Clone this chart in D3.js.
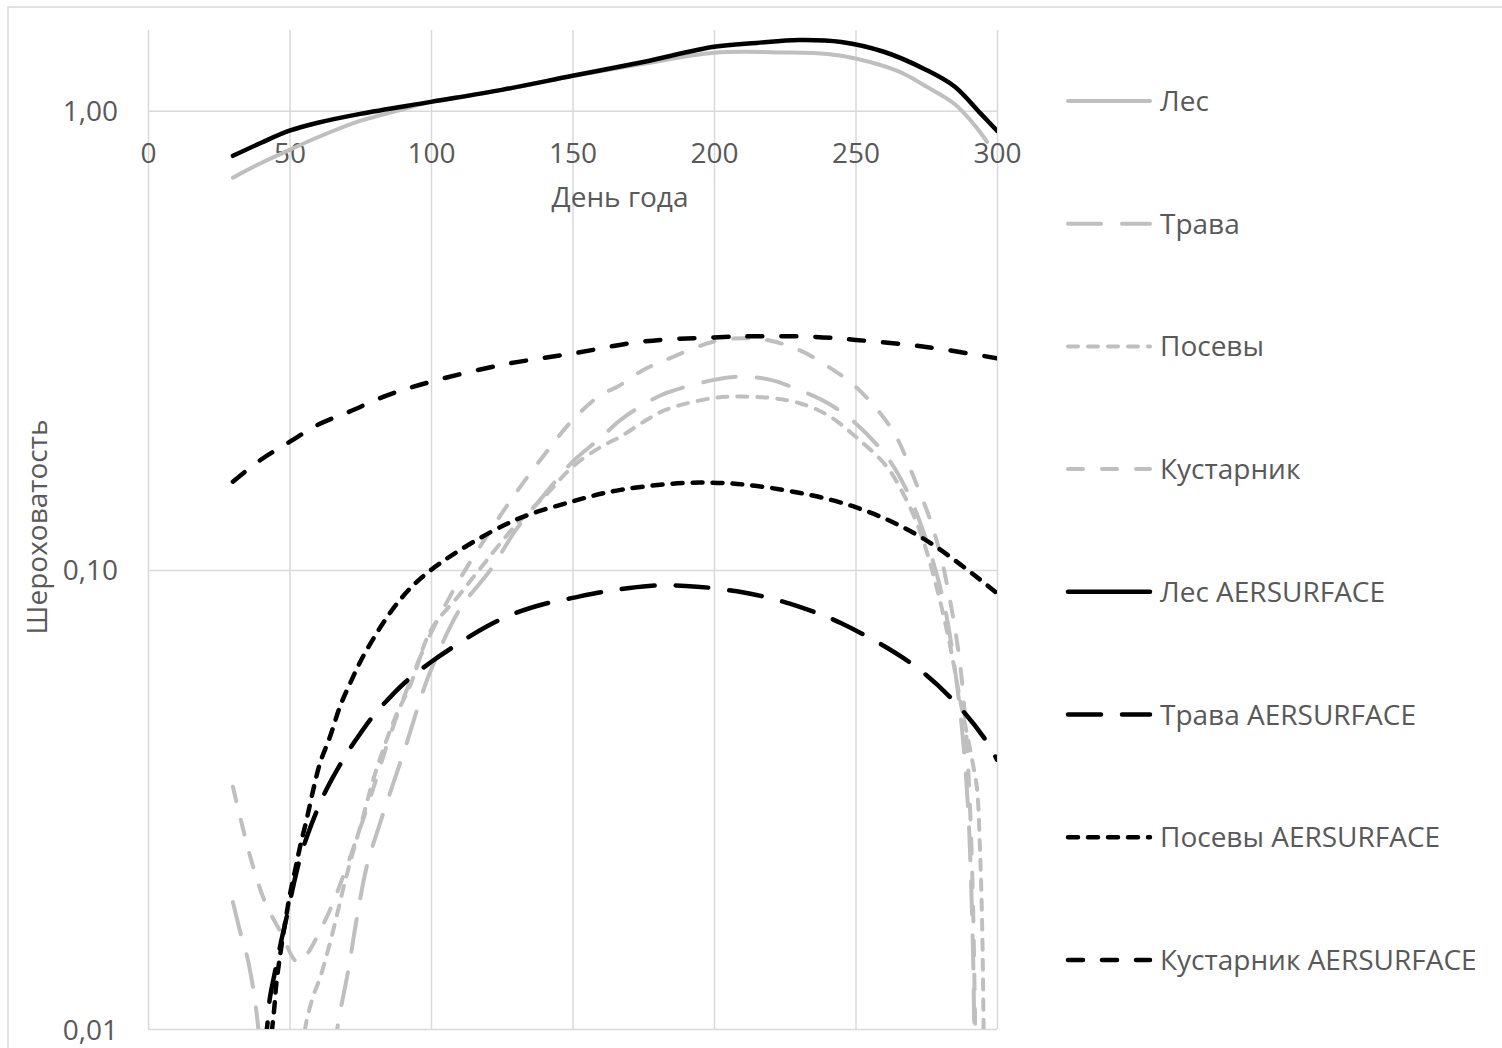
<!DOCTYPE html>
<html>
<head>
<meta charset="utf-8">
<script src="https://cdn.jsdelivr.net/npm/d3@7"></script>
<style>
  body { margin: 0; background: #fff; }
  text { font-family: "Open Sans", sans-serif; fill: #595959; }
</style>
</head>
<body>
<div class="chart"></div>
<script>
// ---- data (day of year, roughness) ----
const xTicks = [0, 50, 100, 150, 200, 250, 300]
const yTicks = [0.01, 0.1, 1]

const seriesNames = ['Лес', 'Трава', 'Посевы', 'Кустарник',
  'Лес AERSURFACE', 'Трава AERSURFACE', 'Посевы AERSURFACE', 'Кустарник AERSURFACE']

const les = [[30,0.715],[40,0.770],[50,0.822],[60,0.876],[75,0.951],[88,1.0],[100,1.046],[125,1.111],
  [150,1.19],[175,1.266],[200,1.338],[225,1.34],[240,1.33],[250,1.30],[265,1.22],[275,1.13],
  [285,1.035],[292,0.932],[296.5,0.856]]

const trava = [[30,0.0189],[33,0.0159],[35,0.0144],[37.5,0.0119],[39,0.0100],[41,0.0075],[46,0.0035],
  [52,0.003],[58,0.0035],[63,0.006],[66,0.0092],[67.8,0.0108],[70.8,0.01345],[73.7,0.0173],[77.3,0.0226],
  [82,0.0281],[91,0.0412],[97,0.054],[100,0.0606],[110,0.0818],[121,0.1],[130,0.1222],[140,0.1457],
  [150,0.172],[160,0.194],[167,0.2122],[175,0.229],[183,0.2426],[200,0.2594],[210,0.2637],[220,0.2594],
  [230,0.2467],[240,0.2312],[250,0.2088],[261,0.1766],[268,0.1494],[275,0.1162],[281,0.086],[285,0.0616],
  [288,0.0426],[290,0.0285],[291.5,0.0149],[292,0.010],[293,0.006]]

const posevy = [[30,0.0099],[32,0.0085],[36,0.005],[42,0.003],[48,0.003],[52,0.005],[54.5,0.0085],
  [55.5,0.010],[58,0.0116],[61,0.01305],[65,0.016],[70,0.0214],[76,0.029],[80,0.0356],[87,0.0471],
  [93,0.0567],[100,0.074],[110,0.0882],[117,0.1],[130,0.1253],[140,0.1443],[150,0.1677],[160,0.1853],
  [167,0.1952],[175,0.21],[183,0.2233],[200,0.237],[210,0.2385],[220,0.237],[230,0.231],[240,0.2177],
  [250,0.1952],[261,0.168],[268,0.142],[273,0.1204],[278,0.0951],[283,0.0704],[287,0.052],[291.7,0.0372],
  [293,0.0331],[294,0.0245],[294.7,0.0175],[295.2,0.0109],[295.6,0.006]]

const kust = [[30,0.0337],[36.5,0.0233],[41.5,0.0188],[47,0.0162],[52,0.0141],[54,0.014],[57,0.0148],
  [60,0.016],[65,0.0186],[70,0.0224],[75,0.0274],[80,0.034],[85,0.0426],[90,0.052],[95,0.0621],
  [100,0.0729],[110,0.0951],[120,0.1192],[130,0.1472],[140,0.178],[150,0.212],[160,0.2406],[166,0.2508],
  [175,0.2727],[183,0.2868],[200,0.3145],[211,0.3197],[220,0.3156],[230,0.3015],[240,0.2782],[250,0.2508],
  [260,0.2144],[265,0.192],[270,0.1624],[276,0.1306],[280,0.108],[284,0.082],[287,0.062],[289,0.045],
  [290.5,0.030],[291.5,0.019],[292.3,0.010],[293,0.006]]

const lesA = [[30,0.798],[40,0.852],[50,0.905],[60,0.942],[75,0.985],[100,1.046],[125,1.111],[150,1.192],
  [175,1.278],[200,1.379],[215,1.406],[230,1.427],[245,1.413],[260,1.345],[275,1.228],[285,1.13],
  [294,0.99],[300,0.905]]

const travaA = [[30,0.003],[36,0.005],[40,0.0085],[42,0.0100],[43,0.0116],[45,0.01344],[47,0.01547],
  [49,0.01754],[51.5,0.0207],[54,0.0239],[56.5,0.0266],[59.8,0.030],[63,0.0332],[68.9,0.0386],
  [72.5,0.0418],[79,0.0476],[84,0.0516],[91,0.057],[100,0.063],[110,0.0693],[120,0.0755],[130,0.0806],
  [140,0.0843],[150,0.0869],[160,0.0894],[177,0.0923],[190,0.0923],[200,0.0912],[215,0.0882],[230,0.0832],
  [245,0.0765],[269,0.063],[284,0.0524],[296,0.0426],[300,0.0386]]

const posevyA = [[30,0.002],[38,0.005],[42,0.008],[44.5,0.0109],[45.5,0.0128],[50,0.0194],[52,0.0222],
  [53.7,0.0249],[56,0.0285],[58.4,0.0332],[60.8,0.038],[64.3,0.0433],[67.8,0.0503],[71.4,0.0566],
  [77.3,0.067],[89,0.086],[100,0.1],[128,0.127],[150,0.141],[167,0.1494],[195,0.155],[220,0.1509],
  [250,0.137],[274,0.117],[300,0.089]]

const kustA = [[30,0.1557],[40,0.174],[50,0.19],[60,0.207],[71,0.221],[85,0.2406],[100,0.257],[125,0.2797],
  [150,0.296],[175,0.3145],[200,0.321],[218,0.323],[235,0.322],[250,0.317],[275,0.306],[300,0.289]]

const seriesData = [les, trava, posevy, kust, lesA, travaA, posevyA, kustA]

// ---- styles ----
const grey = '#bfbfbf'
const dashes = ['none', '33,21', '10,10', '15,19']
const styles = seriesNames.map((n, i) => ({
  color: i < 4 ? grey : '#000',
  width: i < 4 ? 4 : 4.5,
  dash: dashes[i % 4]
}))

const width = 1502
const height = 1048
const margin = { top: 30, right: 505, bottom: 19, left: 148 }
const innerWidth = width - margin.left - margin.right
const innerHeight = height - margin.top - margin.bottom
const fontSize = '28px'

const svg = d3.select('.chart')
  .append('svg')
  .attr('width', width)
  .attr('height', height)

// outer chart border (right and bottom edges fall outside the view)
svg.append('rect')
  .attr('x', 8).attr('y', 7)
  .attr('width', width + 10).attr('height', height + 10)
  .attr('fill', 'none')
  .attr('stroke', '#d9d9d9')
  .attr('stroke-width', 1.5)

const g = svg.append('g')
  .attr('transform', `translate(${margin.left},${margin.top})`)

const x = d3.scaleLinear().domain([0, 300]).range([0, innerWidth])
const y = d3.scaleLog().domain([0.01, 1.5]).range([innerHeight, 0])

const fmt = d => d3.format('.2f')(d).replace('.', ',')

// vertical gridlines
g.append('g')
  .attr('class', 'grid')
  .attr('transform', `translate(0,${innerHeight})`)
  .call(d3.axisBottom(x).tickValues(xTicks).tickSize(-innerHeight).tickFormat(''))

// horizontal gridlines
g.append('g')
  .attr('class', 'grid')
  .call(d3.axisLeft(y).tickValues(yTicks).tickSize(-innerWidth).tickFormat(''))

g.selectAll('.grid line').attr('stroke', '#d9d9d9').attr('stroke-width', 1.5)
g.selectAll('.grid .domain').remove()
g.selectAll('.grid text').remove()

// y tick labels
const yAxis = g.append('g')
  .call(d3.axisLeft(y).tickValues(yTicks).tickSize(0).tickPadding(30).tickFormat(fmt))
yAxis.select('.domain').remove()
yAxis.selectAll('text')
  .attr('dy', null)
  .attr('y', 10)
  .style('font-size', fontSize)
  .attr('fill', '#595959')

// x axis crosses at 1,00
const xAxis = g.append('g')
  .attr('transform', `translate(0,${y(1)})`)
  .call(d3.axisBottom(x).tickValues(xTicks).tickSize(0).tickPadding(32))
xAxis.select('.domain').remove()
xAxis.selectAll('text').style('font-size', fontSize).attr('fill', '#595959')

// axis titles
svg.append('text')
  .attr('x', 620)
  .attr('y', margin.top + y(1) + 96)
  .attr('text-anchor', 'middle')
  .style('font-size', fontSize)
  .text('День года')

svg.append('text')
  .attr('transform', `translate(47,527) rotate(-90)`)
  .attr('text-anchor', 'middle')
  .style('font-size', fontSize)
  .text('Шероховатость')

// lines
g.append('clipPath').attr('id', 'plot')
  .append('rect').attr('width', innerWidth).attr('height', innerHeight)

const line = d3.line()
  .x(d => x(d[0]))
  .y(d => y(d[1]))
  .curve(d3.curveCatmullRom.alpha(0.5))

g.append('g').attr('clip-path', 'url(#plot)')
  .selectAll('path')
  .data(seriesData)
  .join('path')
  .attr('d', line)
  .attr('fill', 'none')
  .attr('stroke', (d, i) => styles[i].color)
  .attr('stroke-width', (d, i) => styles[i].width)
  .attr('stroke-dasharray', (d, i) => styles[i].dash)
  .attr('stroke-linecap', 'round')
  .attr('stroke-linejoin', 'round')

// legend
const legend = svg.append('g')
  .attr('transform', 'translate(1066,101)')

const item = legend.selectAll('g')
  .data(seriesNames)
  .join('g')
  .attr('transform', (d, i) => `translate(0,${i * 122.7})`)

item.append('line')
  .attr('x1', 2).attr('x2', 84)
  .attr('stroke', (d, i) => styles[i].color)
  .attr('stroke-width', (d, i) => styles[i].width)
  .attr('stroke-dasharray', (d, i) => styles[i].dash)
  .attr('stroke-linecap', 'round')

item.append('text')
  .attr('x', 94)
  .attr('y', 10)
  .style('font-size', fontSize)
  .text(d => d)
</script>
</body>
</html>
